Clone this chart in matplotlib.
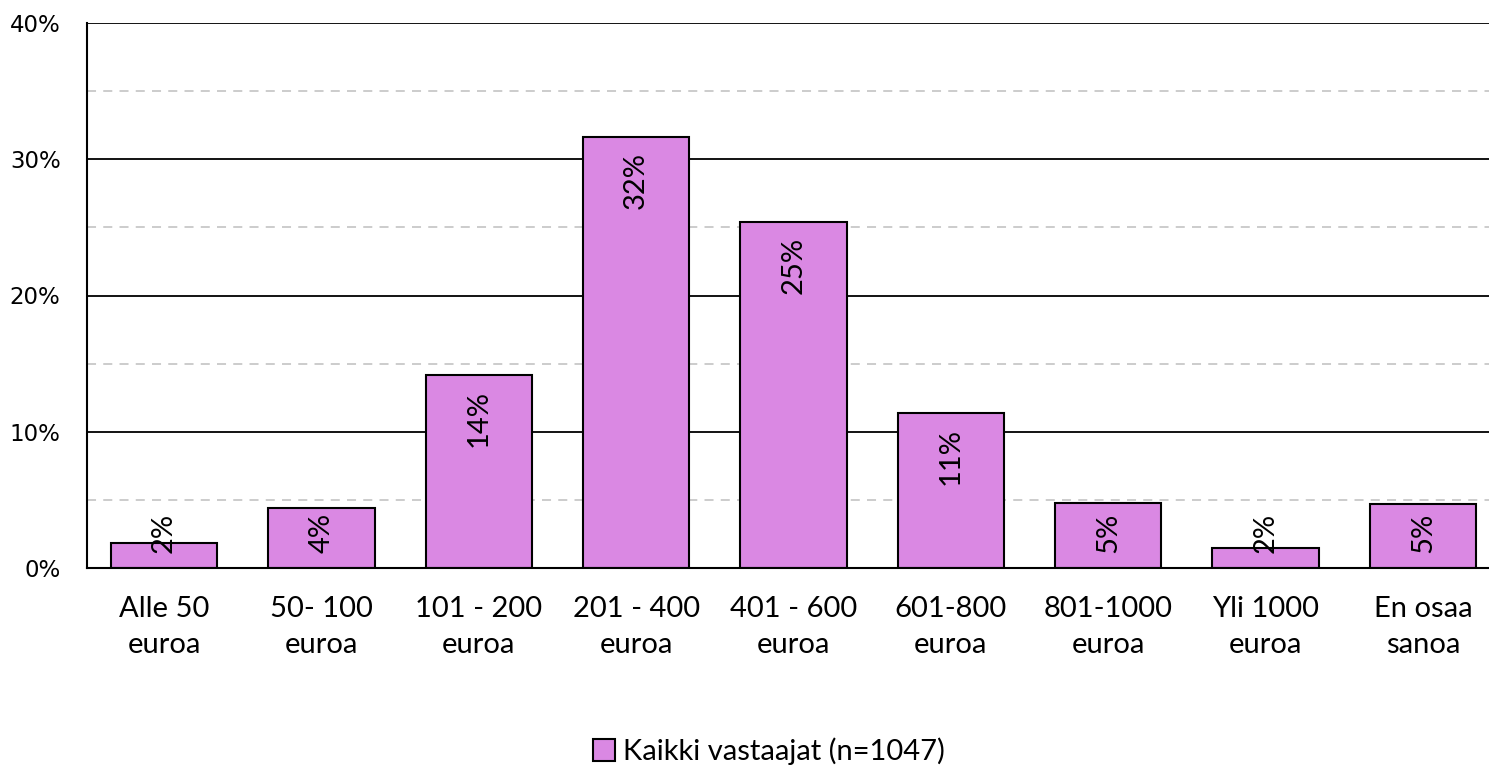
import matplotlib.pyplot as plt
import numpy as np

# Data
categories = ['Alle 50\neuroa', '50- 100\neuroa', '101 - 200\neuroa', '201 - 400\neuroa',
              '401 - 600\neuroa', '601-800\neuroa', '801-1000\neuroa', 'Yli 1000\neuroa',
              'En osaa\nsanoa']
values = [1.8, 4.4, 14.2, 31.6, 25.4, 11.4, 4.8, 1.5, 4.7]
series_name = 'Kaikki vastaajat (n=1047)'

bar_color = '#DA88E3'
label_font = 'Lato'

fig = plt.figure(figsize=(14.89, 7.70), dpi=100)
ax = fig.add_axes([87/1489, 1 - 568/770, (1489-87)/1489, (568-23)/770])

x = np.arange(len(categories))
bars = ax.bar(x, values, width=0.675, color=bar_color, edgecolor='black', linewidth=1.5,
              zorder=3, label=series_name)

# gridlines
for v in [5, 15, 25, 35]:
    ax.axhline(v, color='#c8c8c8', linestyle=(0, (5, 4)), linewidth=1.3, zorder=1)
for v in [10, 20, 30, 40]:
    ax.axhline(v, color='black', linewidth=1.3, zorder=2)

ax.set_ylim(0, 40)
ax.set_xlim(-0.49, 8.42)
ax.set_yticks([0, 10, 20, 30, 40])
ax.set_yticklabels(['0%', '10%', '20%', '30%', '40%'], fontsize=16.5)
ax.set_xticks(x)
ax.set_xticklabels(categories, fontsize=21, family=label_font, linespacing=1.5)
ax.tick_params(axis='y', length=0, pad=19)
ax.tick_params(axis='x', length=0, pad=20)

for s in ['top', 'right']:
    ax.spines[s].set_visible(False)
ax.spines['left'].set_linewidth(1.5)
ax.spines['bottom'].set_linewidth(1.5)
ax.spines['bottom'].set_zorder(4)

# value labels inside the bar ends
for xi, v in zip(x, values):
    ytop = max(v - 1.1, 4.04)
    ax.text(xi, ytop, f'{v:.0f}%', rotation=90, ha='center', va='top',
            fontsize=21, family=label_font, zorder=5)

leg = ax.legend(loc='lower center', bbox_to_anchor=(0.4865, -0.41),
                frameon=False, prop={'family': label_font, 'size': 21},
                handlelength=0.75, handleheight=0.75, handletextpad=0.3)

fig.savefig('out.png', dpi=100)
